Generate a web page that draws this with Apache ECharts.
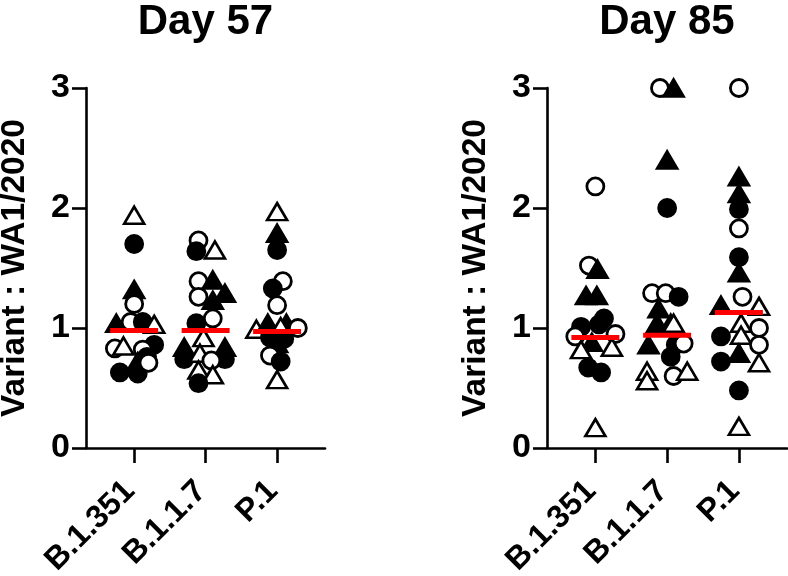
<!DOCTYPE html>
<html>
<head>
<meta charset="utf-8">
<script src="https://cdn.jsdelivr.net/npm/echarts@6/dist/echarts.min.js"></script>
<style>html,body{margin:0;padding:0;background:#fff}#c{width:788px;height:576px}</style>
</head>
<body>
<div id="c"></div>
<script>
// ---------- data ----------
const categories = ['B.1.351', 'B.1.1.7', 'P.1'];
const panelTitles = ['Day 57', 'Day 85'];
const yTicks = [0, 1, 2, 3];
const yAxisTitle = 'Variant : WA1/2020';

// marker code, jitter within category, value
// fc filled circle, oc open circle, ft filled triangle, ot open triangle
const day57_B1351 = [
  ['ot', 0.00, 1.94], ['fc', 0.00, 1.70], ['ft', 0.00, 1.32], ['oc', 0.00, 1.20],
  ['ft', -0.25, 1.04], ['oc', -0.05, 1.05], ['fc', 0.12, 1.05], ['ot', 0.28, 1.03],
  ['oc', -0.27, 0.83], ['ot', -0.15, 0.85], ['fc', 0.28, 0.86], ['oc', 0.12, 0.82],
  ['fc', 0.18, 0.76], ['ft', 0.05, 0.72], ['fc', -0.20, 0.63], ['fc', 0.05, 0.62],
  ['oc', 0.20, 0.71]
];
const day57_B117 = [
  ['oc', -0.10, 1.73], ['fc', -0.13, 1.64], ['ot', 0.13, 1.65], ['oc', -0.10, 1.39],
  ['ft', 0.10, 1.40], ['oc', -0.10, 1.26], ['ft', 0.27, 1.29], ['ft', 0.10, 1.23],
  ['fc', -0.13, 1.04], ['oc', 0.10, 1.08], ['ot', -0.03, 0.92], ['ft', -0.30, 0.84],
  ['fc', -0.30, 0.74], ['ft', 0.27, 0.84], ['fc', 0.27, 0.74], ['ot', -0.08, 0.79],
  ['oc', 0.08, 0.73], ['ot', -0.10, 0.65], ['ot', 0.10, 0.61], ['fc', -0.10, 0.54]
];
const day57_P1 = [
  ['ot', 0.00, 1.97], ['ft', 0.00, 1.79], ['fc', 0.00, 1.65], ['oc', 0.08, 1.39],
  ['fc', -0.06, 1.33], ['oc', 0.00, 1.19], ['ot', -0.29, 0.99], ['ft', -0.13, 1.04],
  ['ft', 0.13, 1.04], ['oc', 0.29, 1.00], ['ot', 0.05, 1.01], ['fc', -0.10, 0.92],
  ['ft', 0.00, 0.87], ['fc', 0.10, 0.91], ['oc', -0.10, 0.77], ['fc', 0.05, 0.72],
  ['ot', 0.00, 0.57]
];
const day85_B1351 = [
  ['oc', 0.00, 2.18], ['oc', -0.09, 1.52], ['ft', 0.03, 1.49], ['ft', -0.13, 1.27],
  ['ft', 0.02, 1.27], ['fc', -0.20, 1.01], ['fc', 0.05, 1.03], ['fc', 0.12, 1.08],
  ['oc', -0.28, 0.93], ['oc', 0.28, 0.95], ['ft', -0.05, 0.88], ['ot', -0.20, 0.82],
  ['ot', 0.23, 0.84], ['fc', -0.10, 0.67], ['fc', 0.08, 0.63], ['ot', 0.00, 0.17]
];
const day85_B117 = [
  ['oc', -0.10, 3.00], ['ft', 0.09, 3.00], ['ft', 0.00, 2.40], ['fc', 0.00, 2.00],
  ['oc', -0.21, 1.29], ['oc', -0.02, 1.29], ['fc', 0.16, 1.26], ['ft', -0.12, 1.16],
  ['ft', -0.14, 1.04], ['ft', 0.05, 1.04], ['ot', 0.09, 1.04], ['ft', -0.26, 0.86],
  ['fc', 0.12, 0.86], ['oc', 0.23, 0.87], ['fc', 0.05, 0.76], ['ot', -0.28, 0.64],
  ['ot', -0.28, 0.56], ['oc', 0.09, 0.60], ['ot', 0.28, 0.64]
];
const day85_P1 = [
  ['oc', 0.00, 3.00], ['ft', 0.00, 2.26], ['ft', 0.00, 2.12], ['fc', 0.00, 1.99],
  ['oc', 0.00, 1.83], ['fc', 0.00, 1.59], ['ft', 0.00, 1.46], ['oc', 0.05, 1.26],
  ['ft', -0.25, 1.19], ['ot', 0.28, 1.18], ['ot', 0.03, 1.04], ['oc', 0.28, 1.00],
  ['fc', -0.25, 0.93], ['ot', 0.03, 0.94], ['oc', 0.28, 0.86], ['fc', -0.25, 0.72],
  ['ft', 0.00, 0.79], ['ot', 0.28, 0.71], ['fc', 0.00, 0.48], ['ot', 0.00, 0.18]
];
const median57 = [0.98, 0.98, 0.97];
const median85 = [0.92, 0.94, 1.13];

// ---------- chart ----------
const FONT = '"Liberation Sans", Arial, Helvetica, sans-serif';
const panels = [
  { groups: [day57_B1351, day57_B117, day57_P1], medians: median57 },
  { groups: [day85_B1351, day85_B117, day85_P1], medians: median85 }
];
const gridBoxes = [
  { left: 86, top: 88, width: 239, height: 360 },
  { left: 547, top: 88, width: 240, height: 360 }
];

function markerItem(code, x, y) {
  const tri = code[1] === 't';
  const filled = code[0] === 'f';
  return {
    value: [x, y],
    symbol: tri ? 'triangle' : 'circle',
    symbolSize: tri ? [20, 17] : 17,
    itemStyle: {
      color: filled ? '#000' : '#fff',
      borderColor: '#000',
      borderWidth: tri ? 2.6 : 2.8,
      opacity: 1
    }
  };
}

const option = {
  animation: false,
  backgroundColor: '#fff',
  title: panels.map((p, i) => ({
    text: panelTitles[i],
    left: gridBoxes[i].left + gridBoxes[i].width / 2,
    top: 1,
    padding: 0,
    textAlign: 'center',
    textStyle: { fontFamily: FONT, fontSize: 42, fontWeight: 'bold', color: '#000' }
  })),
  grid: gridBoxes.map(g => Object.assign({ containLabel: false, outerBoundsMode: 'none' }, g)),
  xAxis: panels.map((p, i) => ({
    type: 'value',
    gridIndex: i,
    min: 0.326,
    max: 3.67,
    splitLine: { show: false },
    axisLine: { show: true, onZero: false, lineStyle: { color: '#000', width: 2.6 } },
    axisTick: { show: true, customValues: [1, 2, 3], length: 15, lineStyle: { color: '#000', width: 2.6 } },
    axisLabel: {
      customValues: [1, 2, 3],
      formatter: v => categories[Math.round(v) - 1] || '',
      rotate: 45,
      verticalAlign: 'middle',
      margin: 34,
      padding: [0, 6, 0, 0],
      fontFamily: FONT, fontSize: 32, fontWeight: 'bold', color: '#000'
    }
  })),
  yAxis: panels.map((p, i) => ({
    type: 'value',
    gridIndex: i,
    min: yTicks[0],
    max: yTicks[yTicks.length - 1],
    interval: 1,
    splitLine: { show: false },
    name: yAxisTitle,
    nameLocation: 'middle',
    nameGap: 54,
    nameMoveOverlap: false,
    nameTextStyle: { fontFamily: FONT, fontSize: 33.5, fontWeight: 'bold', color: '#000' },
    axisLine: { show: true, lineStyle: { color: '#000', width: 2.6 } },
    axisTick: { show: true, length: 14, lineStyle: { color: '#000', width: 2.6 } },
    axisLabel: { margin: 16, fontFamily: FONT, fontSize: 34, fontWeight: 'bold', color: '#000' }
  })),
  series: []
};

panels.forEach((p, i) => {
  const pts = [];
  p.groups.forEach((grp, ci) => {
    grp.forEach(d => pts.push(markerItem(d[0], ci + 1 + d[1], d[2])));
  });
  option.series.push({
    type: 'scatter',
    xAxisIndex: i,
    yAxisIndex: i,
    data: pts,
    itemStyle: { opacity: 1 },
    z: 2
  });
  option.series.push({
    type: 'scatter',
    xAxisIndex: i,
    yAxisIndex: i,
    symbol: 'rect',
    symbolSize: [48, 5],
    itemStyle: { color: '#ff0000', opacity: 1 },
    data: p.medians.map((m, ci) => [ci + 1, m]),
    z: 3
  });
});

const chart = echarts.init(document.getElementById('c'), null, { renderer: 'canvas' });
chart.setOption(option);
</script>
</body>
</html>
